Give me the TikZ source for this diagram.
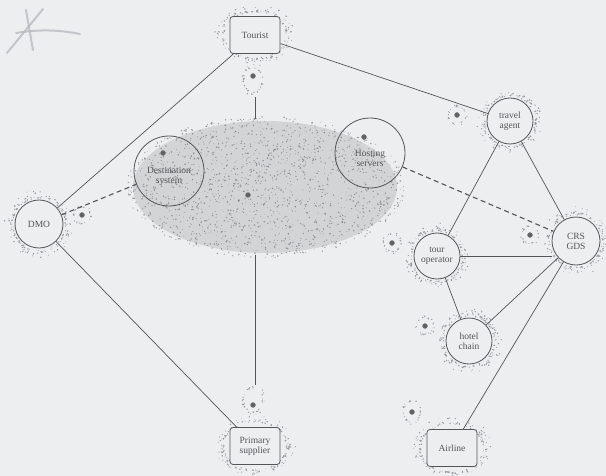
\documentclass[tikz,border=0pt]{standalone}
\usepackage{fontspec}
\setmainfont{Liberation Serif}
\usetikzlibrary{shapes.geometric}

\definecolor{paper}{RGB}{236,238,240}
\definecolor{ink}{RGB}{85,85,88}
\definecolor{speck}{RGB}{150,152,156}
\definecolor{stip}{RGB}{125,127,130}
\definecolor{cloud}{RGB}{210,212,214}
\definecolor{pencil}{RGB}{180,184,188}

\pgfdeclarelayer{back}
\pgfdeclarelayer{links}
\pgfsetlayers{back,links,main}

% speckled ring around a shape: centre x, centre y, x radius, y radius, count
\newcommand\halo[5]{%
  \foreach \k in {1,...,#5}{%
    \pgfmathsetmacro\ha{360*rnd}%
    \pgfmathsetmacro\hs{1+0.36*rnd*rnd}%
    \pgfmathsetmacro\hd{0.35+0.5*rnd}%
    \fill[speck] ({#1+#3*\hs*cos(\ha)},{#2+#4*\hs*sin(\ha)}) circle (\hd pt);
  }}

\tikzset{
  lbl/.style={text=ink, font=\fontsize{9.5}{11}\selectfont, align=center},
  circ/.style={circle, draw=ink, line width=0.8pt, fill=paper, inner sep=0pt,
               minimum size=#1, lbl},
  circ/.default=46pt,
  openc/.style={circle, draw=ink, line width=0.8pt, inner sep=0pt,
                minimum size=#1},
  actor/.style={rectangle, rounded corners=3pt, draw=ink, line width=0.8pt,
                fill=paper, minimum width=50pt, minimum height=37pt,
                inner sep=1pt, lbl},
  icon/.style={circle, fill=black!62, draw=black!50, line width=0.4pt,
               inner sep=0pt, minimum size=5pt},
  link/.style={draw=ink, line width=0.7pt},
  dlink/.style={draw=ink, line width=1.1pt, dash pattern=on 5pt off 3.5pt},
}

\begin{document}
\begin{tikzpicture}[x=1pt, y=-1pt]
\useasboundingbox (0,0) rectangle (606,476);
\pgfmathsetseed{4271}

% shared area holding the destination system and the hosting servers
\node[ellipse, minimum width=270pt, minimum height=136pt, inner sep=0pt] (ds) at (265,187) {};

% actors
\node[actor] (tourist) at (255,35) {Tourist};
\node[actor] (primary) at (255,446) {Primary\\[-1pt]supplier};
\node[actor] (airline) at (452,448) {Airline};
\node[circ=48pt] (dmo) at (39,224) {DMO};
\node[circ] (travel) at (510,121) {travel\\[-1pt]agent};
\node[circ=48pt] (crs) at (576,241) {CRS\\[-1pt]GDS};
\node[circ] (tour) at (437,256) {tour\\[-1pt]operator};
\node[circ] (hotel) at (469,341) {hotel\\[-1pt]chain};
\node[openc=70pt, label={[lbl, yshift=-5pt]center:Destination\\[-1pt]system}] (dest) at (169,171) {};
\node[openc=70pt, label={[lbl, yshift=-5pt]center:Hosting\\[-1pt]servers}] (host) at (370,153) {};

% small terminals
\node[icon] (it) at (253,76) {};
\node[icon] (ip) at (253,405) {};
\node[icon] (ids) at (248,195) {};
\node[icon] (idest) at (163,153) {};
\node[icon] (ihost) at (364,137) {};
\node[icon] (idmo) at (82,215) {};
\node[icon] (itravel) at (457,115) {};
\node[icon] (itour) at (392,243) {};
\node[icon] (icrs) at (530,235) {};
\node[icon] (ihotel) at (425,326) {};
\node[icon] (iair) at (412,412) {};

\coordinate (tdrop) at (255,97);
\coordinate (pdrop) at (255,385);

\begin{pgfonlayer}{back}
  \fill[paper] (0,0) rectangle (606,476);
  % pencil mark
  \begin{scope}[draw=pencil, line width=2pt, line cap=round, opacity=0.75]
    \draw (7,53) -- (43,9);
    \draw (26,10) -- (33,50);
    \draw (16,33) .. controls (40,29) and (60,30) .. (80,34);
  \end{scope}
  % stippled cloud
  \fill[cloud] (ds.center) ellipse [x radius=132pt, y radius=66pt];
  \foreach \k in {1,...,1700}{%
    \pgfmathsetmacro\sa{360*rnd}%
    \pgfmathsetmacro\sr{1.04*sqrt(rnd)}%
    \pgfmathsetmacro\sd{0.35+0.55*rnd}%
    \fill[stip, opacity=0.75] ({265+135*\sr*cos(\sa)},{187+68*\sr*sin(\sa)}) circle (\sd pt);
  }
  % speckled halos
  \halo{255}{35}{31}{23}{170}
  \halo{255}{446}{31}{24}{170}
  \halo{452}{448}{31}{24}{170}
  \halo{39}{224}{26}{26}{160}
  \halo{510}{121}{25}{25}{160}
  \halo{576}{241}{26}{26}{160}
  \halo{437}{256}{25}{25}{160}
  \halo{469}{341}{25}{25}{160}
  \halo{253}{80}{9}{12}{35}
  \halo{253}{400}{9}{12}{35}
  \halo{457}{115}{8}{8}{26}
  \halo{82}{215}{8}{8}{26}
  \halo{392}{243}{8}{8}{26}
  \halo{530}{235}{8}{8}{26}
  \halo{425}{326}{8}{8}{26}
  \halo{412}{412}{8}{10}{26}
\end{pgfonlayer}

\begin{pgfonlayer}{links}
  \draw[link] (tourist) -- (dmo);
  \draw[link] (tourist) -- (travel);
  \draw[link] (tdrop) -- (tdrop |- ds.north);
  \draw[link] (pdrop |- ds.south) -- (pdrop);
  \draw[link] (dmo) -- (primary);
  \draw[dlink] (dmo) -- (dest);
  \draw[dlink] (host) -- (crs);
  \draw[link] (travel) -- (tour);
  \draw[link] (travel) -- (crs);
  \draw[link] (tour.east) -- (crs.west |- tour.east);
  \draw[link] (tour) -- (hotel);
  \draw[link] (hotel) -- (crs);
  \draw[link] (airline) -- (crs);
\end{pgfonlayer}
\end{tikzpicture}
\end{document}
